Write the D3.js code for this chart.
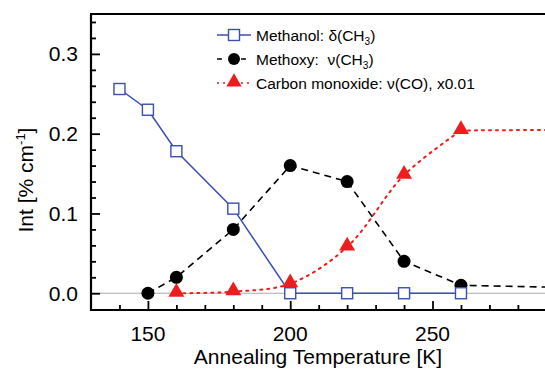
<!DOCTYPE html>
<html><head><meta charset="utf-8">
<script src="https://cdn.jsdelivr.net/npm/d3@7"></script>
<style>body{margin:0;background:#fff}svg{display:block;font-family:"Liberation Sans",Arial,sans-serif}</style>
</head><body><svg id="c" width="545" height="374"></svg>
<script>
const temps = [140,150,160,180,200,220,240,260,300];
const methanol = [[140,0.256],[150,0.230],[160,0.178],[180,0.106],[200,0.0],[220,0.0],[240,0.0],[260,0.0]];
const methoxy = [[150,0.0],[160,0.020],[180,0.080],[200,0.160],[220,0.140],[240,0.040],[260,0.010],[300,0.007]];
const co = [[160,0.0],[180,0.002],[200,0.012],[220,0.058],[240,0.148],[260,0.204],[300,0.205]];
const xMajor = [150,200,250];
const yMajor = [0.0,0.1,0.2,0.3];
const legendLabels = ["Methanol: δ(CH", "Methoxy:  ν(CH", "Carbon monoxide: ν(CO), x0.01"];

const svg = d3.select("#c");
const L=91, T=14, B=310, R=91+170*2.846;
const x = d3.scaleLinear().domain([130,300]).range([L,R]);
const y = d3.scaleLinear().domain([-0.021,0.35]).range([B,T]);
const blue="#3a4fb0", red="#ee1c1c";

svg.append("defs").append("clipPath").attr("id","clip").append("rect")
  .attr("x",L).attr("y",T).attr("width",R-L).attr("height",B-T);

// zero line
svg.append("line").attr("x1",L).attr("x2",R).attr("y1",y(0)).attr("y2",y(0))
  .attr("stroke","#aaa").attr("stroke-width",1.2);

const g = svg.append("g").attr("clip-path","url(#clip)");
const line = d3.line().x(d=>x(d[0])).y(d=>y(d[1]));
const coStyle = p=>p.attr("fill","none").attr("stroke",red).attr("stroke-width",2)
  .attr("stroke-dasharray","2,5").attr("stroke-linecap","round");
g.append("path").datum(co.slice(0,6)).attr("d",line.curve(d3.curveCatmullRom.alpha(0.5))).call(coStyle);
line.curve(d3.curveLinear);
g.append("path").datum(co.slice(5)).attr("d",line).call(coStyle);
g.append("path").datum(methoxy).attr("d",line).attr("fill","none")
  .attr("stroke","#000").attr("stroke-width",1.6).attr("stroke-dasharray","7,5");
g.append("path").datum(methanol).attr("d",line).attr("fill","none")
  .attr("stroke",blue).attr("stroke-width",1.5);

// axes frame
const frame = svg.append("g");
frame.append("line").attr("x1",L).attr("x2",L).attr("y1",T).attr("y2",B+1).attr("stroke","#000").attr("stroke-width",2.2);
frame.append("line").attr("x1",L-1).attr("x2",R).attr("y1",B).attr("y2",B).attr("stroke","#000").attr("stroke-width",2.2);
frame.append("line").attr("x1",L-1).attr("x2",R).attr("y1",T).attr("y2",T).attr("stroke","#000").attr("stroke-width",2.2);

// x axis ticks (inward)
const xa = d3.axisBottom(x).tickValues(d3.range(140,300,10)).tickSize(0).tickFormat("");
svg.append("g").attr("transform",`translate(0,${B})`).call(xa).call(g=>g.select(".domain").remove())
  .selectAll(".tick line").attr("y2",d=>xMajor.includes(d)?-9:-5).attr("stroke","#000").attr("stroke-width",1.8);
svg.append("g").selectAll("text").data(xMajor).join("text")
  .attr("x",d=>x(d)).attr("y",341).attr("text-anchor","middle").attr("font-size",21).text(d=>d);

// y axis ticks
const yt = d3.range(0,18).map(i=>+(i*0.02).toFixed(2)).filter(v=>v<=0.34);
const ya = d3.axisLeft(y).tickValues(yt).tickSize(0).tickFormat("");
svg.append("g").attr("transform",`translate(${L},0)`).call(ya).call(g=>g.select(".domain").remove())
  .selectAll(".tick line").attr("x2",d=>yMajor.some(v=>Math.abs(v-d)<1e-9)?9:5).attr("stroke","#000").attr("stroke-width",1.8);
svg.append("g").selectAll("text").data(yMajor).join("text")
  .attr("x",78).attr("y",d=>y(d)+7.5).attr("text-anchor","end").attr("font-size",21).text(d=>d.toFixed(1));

// axis titles
svg.append("text").attr("x",318).attr("y",364).attr("text-anchor","middle").attr("font-size",21)
  .text("Annealing Temperature [K]");
const yt2 = svg.append("text").attr("transform","translate(33,180) rotate(-90)").attr("text-anchor","middle").attr("font-size",21);
yt2.append("tspan").text("Int [% cm");
yt2.append("tspan").attr("font-size",13).attr("dy",-8).text("-1");
yt2.append("tspan").attr("dy",8).text("]");

// markers
const mg = svg.append("g").attr("clip-path","url(#clip)");
mg.selectAll(".tri").data(co).join("path")
  .attr("d",d3.symbol(d3.symbolTriangle,110)).attr("transform",d=>`translate(${x(d[0])},${y(d[1])-1})`).attr("fill",red);
mg.selectAll(".circ").data(methoxy).join("circle")
  .attr("cx",d=>x(d[0])).attr("cy",d=>y(d[1])).attr("r",6.5).attr("fill","#000");
mg.selectAll(".sq").data(methanol).join("rect")
  .attr("x",d=>x(d[0])-5.5).attr("y",d=>y(d[1])-5.5).attr("width",11).attr("height",11)
  .attr("fill","#fff").attr("stroke",blue).attr("stroke-width",1.4);

// legend
const ly=[35,59,83], lx1=217, lx2=251, lc=234, tx=256;
const leg = svg.append("g");
leg.append("line").attr("x1",lx1).attr("x2",lx2).attr("y1",ly[0]).attr("y2",ly[0]).attr("stroke",blue).attr("stroke-width",1.5);
leg.append("rect").attr("x",lc-5.5).attr("y",ly[0]-5.5).attr("width",11).attr("height",11).attr("fill","#fff").attr("stroke",blue).attr("stroke-width",1.4);
leg.append("line").attr("x1",lx1).attr("x2",lx2).attr("y1",ly[1]).attr("y2",ly[1]).attr("stroke","#000").attr("stroke-width",1.6).attr("stroke-dasharray","5,19");
leg.append("circle").attr("cx",lc).attr("cy",ly[1]).attr("r",6).attr("fill","#000");
leg.append("line").attr("x1",lx1).attr("x2",lx2).attr("y1",ly[2]).attr("y2",ly[2]).attr("stroke",red).attr("stroke-width",1.6).attr("stroke-dasharray","2,4");
leg.append("path").attr("d",d3.symbol(d3.symbolTriangle,100)).attr("transform",`translate(${lc},${ly[2]-1})`).attr("fill",red);
legendLabels.forEach((t,i)=>{
  const te = leg.append("text").attr("x",tx).attr("y",ly[i]+5.5).attr("font-size",15.5).style("white-space","pre");
  te.append("tspan").text(t);
  if(i<2){te.append("tspan").attr("font-size",10).attr("dy",4).text("3");te.append("tspan").attr("dy",-4).text(")");}
});
</script></body></html>
